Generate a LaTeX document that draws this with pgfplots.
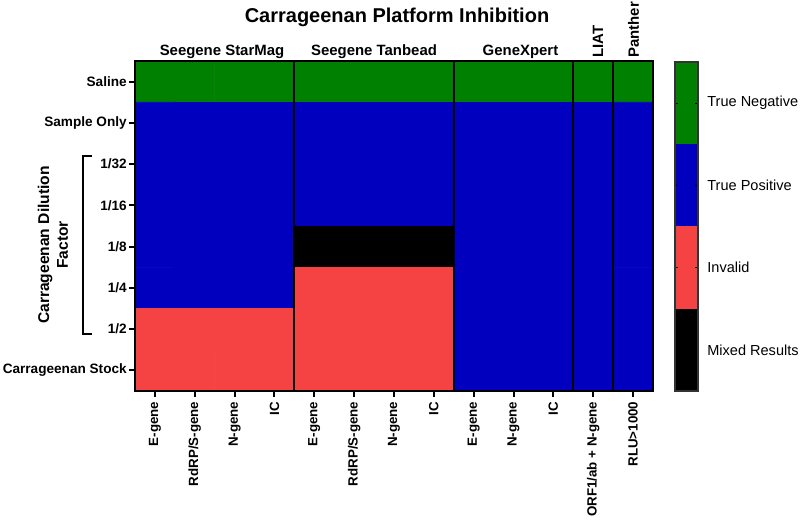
\documentclass[border=0pt]{standalone}
\usepackage{pgfplots}
\pgfplotsset{compat=1.18}
\usepackage{fontspec}
\setmainfont{Liberation Sans}
\definecolor{cTN}{RGB}{0,128,0}
\definecolor{cTP}{RGB}{0,0,190}
\definecolor{cIN}{RGB}{245,66,66}
\definecolor{cMX}{RGB}{0,0,0}
\pgfplotsset{colormap={status}{rgb255=(0,0,0) rgb255=(245,66,66) rgb255=(0,0,190) rgb255=(0,128,0)}}
\begin{document}
\begin{tikzpicture}
\path[use as bounding box] (-101.25pt,-97.5pt) rectangle (498.75pt,293.25pt);
\begin{axis}[
  at={(0pt,0pt)}, anchor=south west,
  scale only axis, width=388.5pt, height=247.5pt,
  xmin=-0.5, xmax=12.5, ymin=-0.5, ymax=7.5,
  y dir=reverse, enlargelimits=false, axis on top,
  colormap name=status, colormap access=direct,
  xtick={0,...,12},
  xticklabels={E-gene,RdRP/S-gene,N-gene,IC,E-gene,RdRP/S-gene,N-gene,IC,E-gene,N-gene,IC,ORF1/ab + N-gene,RLU>1000},
  ytick={0,...,7},
  yticklabels={Saline,Sample Only,1/32,1/16,1/8,1/4,1/2,Carrageenan Stock},
  x tick label style={rotate=90, anchor=east, font=\bfseries\fontsize{10}{12}\selectfont},
  y tick label style={inner sep=1.5pt, font=\bfseries\fontsize{10.2}{12}\selectfont},
  tick align=outside, xtick pos=bottom, ytick pos=left,
  major tick length=4.5pt,
  tick style={line width=1.5pt, black},
  axis line style={line width=1.5pt, black},
]
\addplot[matrix plot*, shader=faceted, faceted color=mapped color, line width=0.6pt, mesh/cols=13, point meta=explicit] coordinates {
(0,0) [3] (1,0) [3] (2,0) [3] (3,0) [3] (4,0) [3] (5,0) [3] (6,0) [3] (7,0) [3] (8,0) [3] (9,0) [3] (10,0) [3] (11,0) [3] (12,0) [3]
(0,1) [2] (1,1) [2] (2,1) [2] (3,1) [2] (4,1) [2] (5,1) [2] (6,1) [2] (7,1) [2] (8,1) [2] (9,1) [2] (10,1) [2] (11,1) [2] (12,1) [2]
(0,2) [2] (1,2) [2] (2,2) [2] (3,2) [2] (4,2) [2] (5,2) [2] (6,2) [2] (7,2) [2] (8,2) [2] (9,2) [2] (10,2) [2] (11,2) [2] (12,2) [2]
(0,3) [2] (1,3) [2] (2,3) [2] (3,3) [2] (4,3) [2] (5,3) [2] (6,3) [2] (7,3) [2] (8,3) [2] (9,3) [2] (10,3) [2] (11,3) [2] (12,3) [2]
(0,4) [2] (1,4) [2] (2,4) [2] (3,4) [2] (4,4) [0] (5,4) [0] (6,4) [0] (7,4) [0] (8,4) [2] (9,4) [2] (10,4) [2] (11,4) [2] (12,4) [2]
(0,5) [2] (1,5) [2] (2,5) [2] (3,5) [2] (4,5) [1] (5,5) [1] (6,5) [1] (7,5) [1] (8,5) [2] (9,5) [2] (10,5) [2] (11,5) [2] (12,5) [2]
(0,6) [1] (1,6) [1] (2,6) [1] (3,6) [1] (4,6) [1] (5,6) [1] (6,6) [1] (7,6) [1] (8,6) [2] (9,6) [2] (10,6) [2] (11,6) [2] (12,6) [2]
(0,7) [1] (1,7) [1] (2,7) [1] (3,7) [1] (4,7) [1] (5,7) [1] (6,7) [1] (7,7) [1] (8,7) [2] (9,7) [2] (10,7) [2] (11,7) [2] (12,7) [2]
};
\draw[line width=1.5pt] (axis cs:3.5,-0.5) -- (axis cs:3.5,7.5);
\draw[line width=1.5pt] (axis cs:7.5,-0.5) -- (axis cs:7.5,7.5);
\draw[line width=1.5pt] (axis cs:10.5,-0.5) -- (axis cs:10.5,7.5);
\draw[line width=1.5pt] (axis cs:11.5,-0.5) -- (axis cs:11.5,7.5);
\end{axis}
% colour key
\begin{axis}[
  at={(405pt,0pt)}, anchor=south west,
  scale only axis, width=17.25pt, height=246.75pt,
  xmin=0, xmax=1, ymin=0, ymax=4, enlargelimits=false, axis on top,
  xtick=\empty,
  ytick={0.5,1.5,2.5,3.5},
  yticklabels={Mixed Results,Invalid,True Positive,True Negative},
  yticklabel pos=right, ytick pos=both,
  tick align=inside, major tick length=2.5pt,
  tick style={line width=0.8pt, black},
  y tick label style={xshift=3.5pt, font=\fontsize{10.9}{13}\selectfont},
  axis line style={line width=0.9pt, black!80},
]
\addplot[fill=cMX, draw=none] coordinates {(0,0) (1,0) (1,1) (0,1)} -- cycle;
\addplot[fill=cIN, draw=none] coordinates {(0,1) (1,1) (1,2) (0,2)} -- cycle;
\addplot[fill=cTP, draw=none] coordinates {(0,2) (1,2) (1,3) (0,3)} -- cycle;
\addplot[fill=cTN, draw=none] coordinates {(0,3) (1,3) (1,4) (0,4)} -- cycle;
\end{axis}
% titles
\node[anchor=base, font=\bfseries\fontsize{15}{18}\selectfont] at (196.5pt,276pt) {Carrageenan Platform Inhibition};
\node[anchor=base, font=\bfseries\fontsize{11.2}{13}\selectfont] at (65.25pt,251.6pt) {Seegene StarMag};
\node[anchor=base, font=\bfseries\fontsize{11.2}{13}\selectfont] at (179.25pt,251.6pt) {Seegene Tanbead};
\node[anchor=base, font=\bfseries\fontsize{11.2}{13}\selectfont] at (289.1pt,251.6pt) {GeneXpert};
\node[anchor=west, rotate=90, inner sep=0pt, font=\bfseries\fontsize{11.2}{13}\selectfont] at (347.25pt,249.75pt) {LIAT};
\node[anchor=west, rotate=90, inner sep=0pt, font=\bfseries\fontsize{11.2}{13}\selectfont] at (373.9pt,249.75pt) {Panther};
% dilution bracket
\draw[line width=1.5pt] (-32.25pt,176.25pt) -- (-39pt,176.25pt) -- (-39pt,42.75pt) -- (-32.25pt,42.75pt);
\node[rotate=90, align=center, font=\bfseries\fontsize{11.7}{14}\selectfont] at (-61.5pt,109.5pt) {Carrageenan Dilution\\Factor};
\end{tikzpicture}
\end{document}
